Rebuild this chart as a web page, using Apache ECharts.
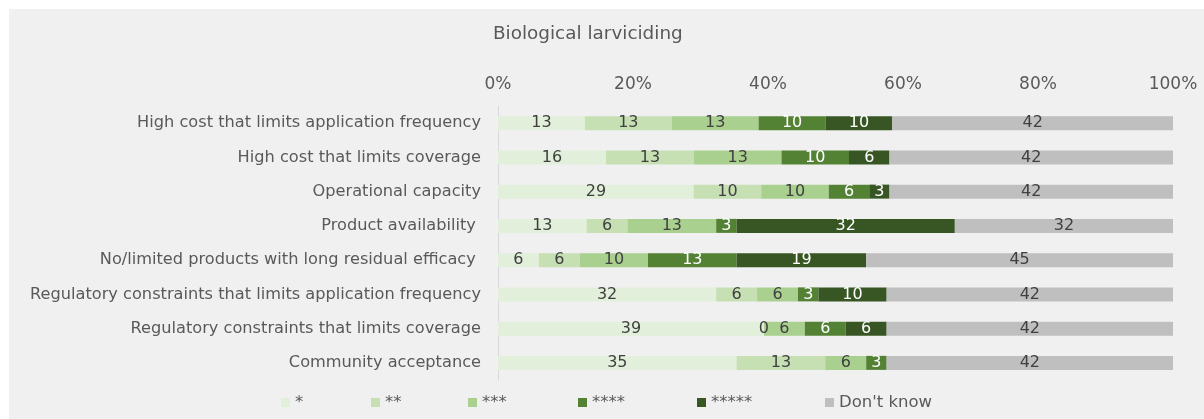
<!DOCTYPE html>
<html>
<head>
<meta charset="utf-8">
<script src="https://cdn.jsdelivr.net/npm/echarts@6/dist/echarts.min.js"></script>
<style>
  html, body { margin: 0; padding: 0; background: #ffffff; }
  #chart { width: 1204px; height: 419px; }
</style>
</head>
<body>
<div id="chart"></div>
<script>
// Barriers to biological larviciding, share of responses by rating
const categories = [
  'High cost that limits application frequency',
  'High cost that limits coverage',
  'Operational capacity',
  'Product availability ',
  'No/limited products with long residual efficacy ',
  'Regulatory constraints that limits application frequency',
  'Regulatory constraints that limits coverage',
  'Community acceptance'
];
const ratingNames = ['*', '**', '***', '****', '*****', "Don't know"];
const star1 = [13, 16, 29, 13, 6, 32, 39, 35];
const star2 = [13, 13, 10, 6, 6, 6, 0, 13];
const star3 = [13, 13, 10, 13, 10, 6, 6, 6];
const star4 = [10, 10, 6, 3, 13, 3, 6, 3];
const star5 = [10, 6, 3, 32, 19, 10, 6, null];
const dontKnow = [42, 42, 42, 32, 45, 42, 42, 42];
const xTicks = [0, 20, 40, 60, 80, 100];

const seriesValues = [star1, star2, star3, star4, star5, dontKnow];
const colors = ['#e2efda', '#c6e0b4', '#a9d08e', '#548235', '#375623', '#bfbfbf'];
const labelColors = ['#404040', '#404040', '#404040', '#ffffff', '#ffffff', '#404040'];
const legendLefts = [281, 371, 468, 578, 697, 825];
const FONT = 'DejaVu Sans';

// each row is drawn as 100% of its responses
const rowTotals = categories.map((_, i) =>
  seriesValues.reduce((s, arr) => s + (arr[i] || 0), 0));

const series = ratingNames.map((name, k) => ({
  name: name,
  type: 'bar',
  stack: 'total',
  barWidth: 14,
  itemStyle: { color: colors[k] },
  emphasis: { disabled: true },
  label: {
    show: true,
    position: 'inside',
    color: labelColors[k],
    fontFamily: FONT,
    fontSize: 16,
    formatter: p => (p.data && p.data.raw != null) ? String(p.data.raw) : ''
  },
  data: seriesValues[k].map((v, i) =>
    v == null ? null : { value: v / rowTotals[i] * 100, raw: v })
}));

// one legend entry per rating, placed along the bottom row
const legends = ratingNames.map((name, k) => ({
  data: [name],
  left: legendLefts[k], top: 394,
  padding: 0,
  itemWidth: 9, itemHeight: 9,
  icon: 'rect',
  textStyle: { fontFamily: FONT, fontSize: 16.5, color: '#595959' }
}));

const chart = echarts.init(document.getElementById('chart'));
chart.setOption({
  backgroundColor: '#ffffff',
  animation: false,
  graphic: [{
    type: 'rect', z: -10, silent: true,
    shape: { x: 9, y: 9, width: 1195, height: 410 },
    style: { fill: '#f0f0f0' }
  }],
  title: {
    text: 'Biological larviciding',
    left: 493, top: 25, padding: 0,
    textStyle: { fontFamily: FONT, fontSize: 18.4, fontWeight: 'normal', color: '#595959' }
  },
  legend: legends,
  grid: { left: 498, right: 31, top: 106, height: 274 },
  xAxis: {
    type: 'value', position: 'top',
    min: xTicks[0], max: xTicks[xTicks.length - 1], interval: 20,
    axisLine: { show: false }, axisTick: { show: false }, splitLine: { show: false },
    axisLabel: { formatter: '{value}%', margin: 13, fontFamily: FONT, fontSize: 17, color: '#595959' }
  },
  yAxis: {
    type: 'category', inverse: true, data: categories,
    axisLine: { show: true, lineStyle: { color: '#d9d9d9', width: 1 } },
    axisTick: { show: false },
    axisLabel: { margin: 17, fontFamily: FONT, fontSize: 16.2, color: '#595959' }
  },
  series: series
});
</script>
</body>
</html>
